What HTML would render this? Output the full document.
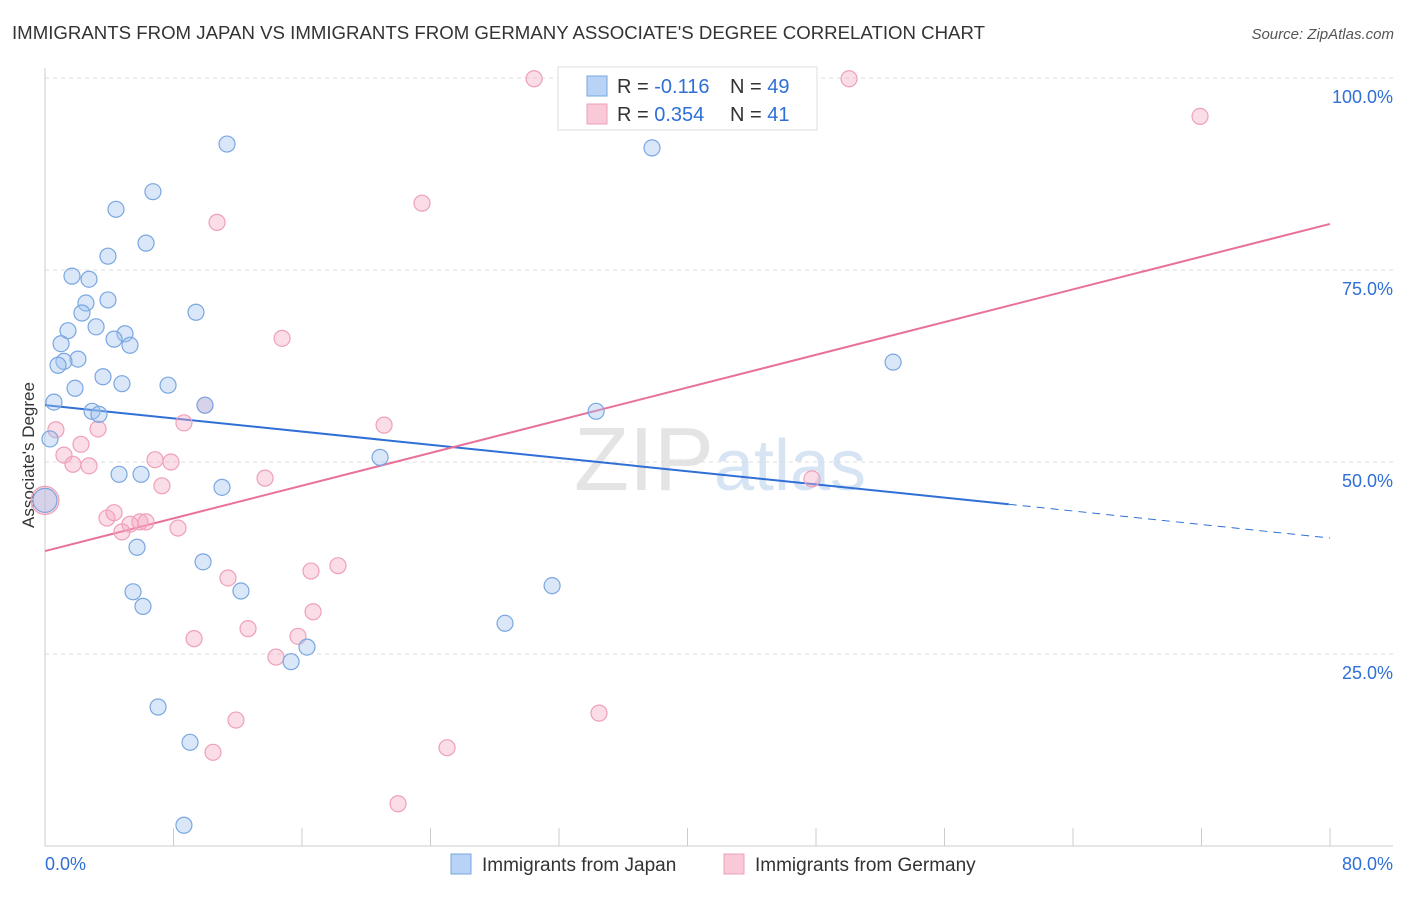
<!DOCTYPE html>
<html><head><meta charset="utf-8"><style>
body{margin:0;background:#fff;font-family:"Liberation Sans",sans-serif;}
svg text{font-family:"Liberation Sans",sans-serif;}
</style></head><body>
<svg id="chart" width="1406" height="892" xmlns="http://www.w3.org/2000/svg">
<text x="12" y="39" font-size="18" fill="#333" textLength="973" lengthAdjust="spacingAndGlyphs">IMMIGRANTS FROM JAPAN VS IMMIGRANTS FROM GERMANY ASSOCIATE'S DEGREE CORRELATION CHART</text>
<text x="1394" y="39" font-size="15" fill="#555" text-anchor="end" font-style="italic">Source: ZipAtlas.com</text>
<text x="720" y="490" font-size="90" fill="#e4e4e4" text-anchor="middle" font-family="Liberation Serif">ZIP<tspan fill="#d6e4f4" font-family="Liberation Sans" font-size="72">atlas</tspan></text>
<text transform="translate(34,455) rotate(-90)" font-size="17" fill="#333" text-anchor="middle">Associate's Degree</text>
<g id="grid"></g><g id="trends"></g><g id="pts"></g>
<g>
<rect x="558" y="67" width="259" height="63" fill="#fff" stroke="#ddd"/>
<rect x="587" y="76" width="20" height="20" fill="#b8d3f5" stroke="#7aa7e0"/>
<text x="617" y="93" font-size="20" fill="#333">R = <tspan fill="#2f6fd6">-0.116</tspan></text>
<text x="730" y="93" font-size="20" fill="#333">N = <tspan fill="#2f6fd6">49</tspan></text>
<rect x="587" y="104" width="20" height="20" fill="#f9c9d8" stroke="#eea0b8"/>
<text x="617" y="121" font-size="20" fill="#333">R = <tspan fill="#2f6fd6">0.354</tspan></text>
<text x="730" y="121" font-size="20" fill="#333">N = <tspan fill="#2f6fd6"> 41</tspan></text>
</g>
<g>
<rect x="451" y="854" width="20" height="20" fill="#b8d3f5" stroke="#7aa7e0"/>
<text x="482" y="871" font-size="19" fill="#333">Immigrants from Japan</text>
<rect x="724" y="854" width="20" height="20" fill="#f9c9d8" stroke="#eea0b8"/>
<text x="755" y="871" font-size="19" fill="#333">Immigrants from Germany</text>
</g>
</svg>
<script>
const xTicks=[0,10,20,30,40,50,60,70,80];
const yTicks=[25,50,75,100];
const japanX=[11.33,6.72,4.42,6.29,3.92,1.68,2.74,3.92,2.55,2.30,9.40,1.43,3.18,4.98,4.30,5.29,1.0,2.05,1.18,0.81,3.61,4.79,7.66,1.87,0.56,9.96,2.93,3.36,0.31,20.86,4.61,5.98,11.02,0,5.73,9.84,5.48,12.2,6.10,31.57,28.64,16.31,15.32,7.04,9.03,8.65,37.79,34.31,52.8];
const japanY=[91.4,85.2,82.9,78.5,76.8,74.2,73.8,71.1,70.7,69.4,69.5,67.1,67.6,66.7,66.0,65.2,65.4,63.4,63.1,62.6,61.1,60.2,60.0,59.6,57.8,57.4,56.6,56.2,53.0,50.6,48.4,48.4,46.7,45.0,38.9,37.0,33.1,33.2,31.2,33.9,29.0,25.9,24.0,18.1,13.5,2.7,90.9,56.6,63.0];
const germanyX=[30.45,50.06,71.91,23.47,10.71,14.76,0.68,3.30,8.65,21.11,9.96,2.24,1.18,1.74,2.74,6.85,7.84,13.70,7.28,47.75,0,3.86,4.30,5.29,5.91,6.29,4.79,8.28,11.39,16.56,18.24,16.69,9.28,12.64,15.75,14.38,11.89,34.49,10.46,25.03,21.98];
const germanyY=[99.9,99.9,95.0,83.7,81.2,66.1,54.2,54.3,55.1,54.8,57.4,52.3,50.9,49.7,49.5,50.3,50.0,47.9,46.9,47.8,45.0,42.7,43.4,41.9,42.2,42.2,40.9,41.4,34.9,35.8,36.5,30.5,27.0,28.3,27.3,24.6,16.4,17.3,12.2,12.8,5.5];
const japanTrend=[57.4,44.5,40.1]; // at x=0, x=60, x=80
const germanyTrend=[38.4,81.0]; // at x=0, x=80
const NS='http://www.w3.org/2000/svg';
const sx=v=>45+v*(1285/80), sy=v=>846-v*7.68;
function mk(t,a,p){const e=document.createElementNS(NS,t);for(const k in a)e.setAttribute(k,a[k]);p.appendChild(e);return e;}
const grid=document.getElementById('grid');
yTicks.forEach(v=>{
 const l=mk('line',{x1:45,x2:1393,y1:sy(v),y2:sy(v),stroke:'#ddd','stroke-dasharray':'4 4'},grid);
 
 
 const t=mk('text',{x:1393,y:sy(v)+25,'font-size':18,fill:'#2f6fd6','text-anchor':'end'},grid);t.textContent=v.toFixed(1)+'%';
 
 
});
mk('line',{x1:45,x2:45,y1:68,y2:846,stroke:'#ccc'},grid);
mk('line',{x1:45,x2:1393,y1:846,y2:846,stroke:'#ccc'},grid);
for(let i=0;i<=10;i++){const x=sx(i*8);const tk=mk('line',{x1:x,x2:x,y1:828,y2:846,stroke:'#ccc'},grid);
 
 }
[[0,'start',45],[80,'end',1393]].forEach(([v,a,x])=>{const t=mk('text',{x:x,y:870,'font-size':18,fill:'#2f6fd6','text-anchor':a},grid);t.textContent=v.toFixed(1)+'%';
 
 });
const tr=document.getElementById('trends');
let l1=mk('line',{x1:sx(0),y1:sy(japanTrend[0]),x2:sx(60),y2:sy(japanTrend[1]),stroke:'#2f6fd6','stroke-width':2},tr);


let l2=mk('line',{x1:sx(60),y1:sy(japanTrend[1]),x2:sx(80),y2:sy(japanTrend[2]),stroke:'#2f6fd6','stroke-width':1,'stroke-dasharray':'8 6'},tr);


let l3=mk('line',{x1:sx(0),y1:sy(germanyTrend[0]),x2:sx(80),y2:sy(germanyTrend[1]),stroke:'#e8719a','stroke-width':2},tr);


const pts=document.getElementById('pts');
germanyX.forEach((x,i)=>{const c=mk('circle',{cx:sx(x),cy:sy(germanyY[i]),r:(x===0?14:8),fill:'rgba(245,170,195,0.4)',stroke:'#eea0b8','stroke-width':1.2},pts);
 
 });
japanX.forEach((x,i)=>{const c=mk('circle',{cx:sx(x),cy:sy(japanY[i]),r:(x===0?12:8),fill:'rgba(160,196,240,0.4)',stroke:'#7aa7e0','stroke-width':1.2},pts);
 
 });
</script>
</body></html>
